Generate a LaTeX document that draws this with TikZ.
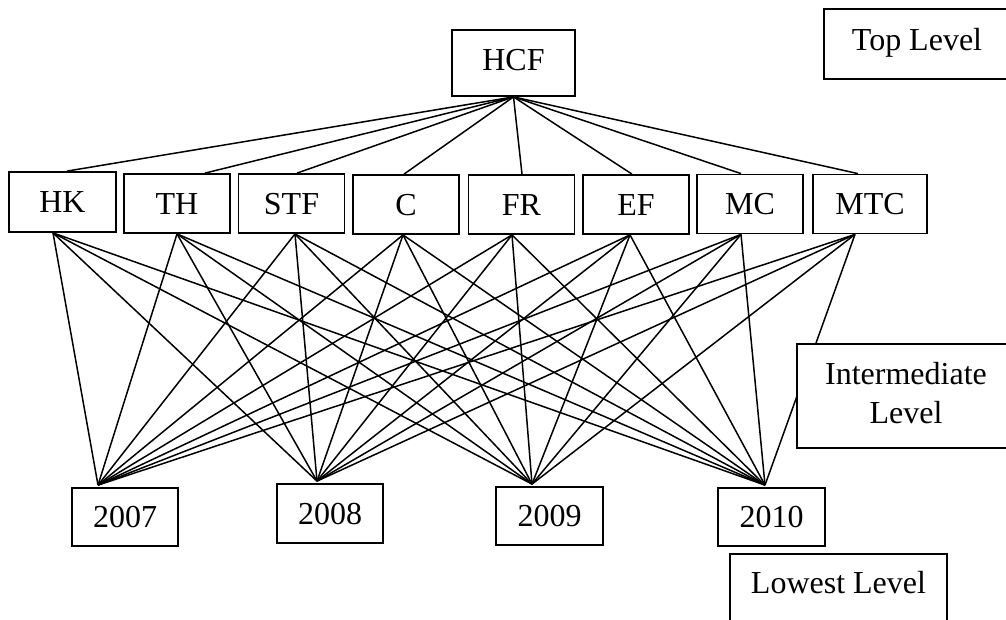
\documentclass[tikz,border=0pt]{standalone}
\usepackage{fontspec}
\setmainfont{Liberation Serif}
\pgfdeclarelayer{bg}
\pgfsetlayers{bg,main}
\begin{document}
\begin{tikzpicture}[x=1pt,y=-1pt,
  box/.style={draw, line width=1.8pt, fill=white, inner sep=0pt,
    font=\fontsize{32}{39}\selectfont, text height=21pt, text depth=0pt,
    minimum width=106pt, minimum height=59pt},
  link/.style={line width=1.5pt}]
\useasboundingbox (0,0) rectangle (1006,619);
\clip (0,0) rectangle (1006,619);

% goal
\node[box, minimum width=123pt, minimum height=66pt, text depth=6pt] (hcf) at (513.5,63) {HCF};

% criteria
\node[box, minimum width=107pt, minimum height=60pt] (hk)  at (62.5,202)  {HK};
\node[box] (th)  at (177,203.5)  {TH};
\node[box] (stf) at (291.5,203.5) {STF};
\node[box] (ca)  at (406,204.5)  {C};
\node[box] (fr)  at (521.5,204.5) {FR};
\node[box] (ef)  at (636,204.5)  {EF};
\node[box] (mc)  at (750,204)    {MC};
\node[box, minimum width=114pt] (mtc) at (870,204) {MTC};

% alternatives
\node[box, minimum height=58pt] (y2007) at (125,517)   {2007};
\node[box] (y2008) at (330,513.5) {2008};
\node[box, minimum width=107pt, minimum height=58pt] (y2009) at (549.5,516) {2009};
\node[box, minimum width=107pt, minimum height=58pt] (y2010) at (771.5,517) {2010};

% level labels
\node[box, minimum width=186pt, minimum height=70pt, text depth=9pt] (toplvl) at (917,44) {Top Level};
\node[box, minimum width=218pt, minimum height=104pt, text height=, text depth=7pt, align=center] (midlvl) at (906,396) {Intermediate\\Level};
\node[box, minimum width=217pt, minimum height=70pt, text depth=13pt] (lowlvl) at (838.5,589) {Lowest Level};

\begin{pgfonlayer}{bg}
  % goal to criteria
  \foreach \n/\o in {hk/4.5, th/28, stf/5.5, ca/-2, fr/0.5, ef/-4, mc/-9, mtc/-12}
    \draw[link] (hcf.south) -- ([xshift=\o pt]\n.north);
  % criteria to alternatives
  \foreach \n/\o in {hk/-9.5, th/0, stf/3.5, ca/-3, fr/-9.5, ef/-6, mc/-9, mtc/-15}
    \foreach \y/\p in {y2007/-27, y2008/-13, y2009/-17.5, y2010/-6.5}
      \draw[link] ([xshift=\o pt]\n.south) -- ([xshift=\p pt, yshift=2pt]\y.north);
\end{pgfonlayer}
\end{tikzpicture}
\end{document}
